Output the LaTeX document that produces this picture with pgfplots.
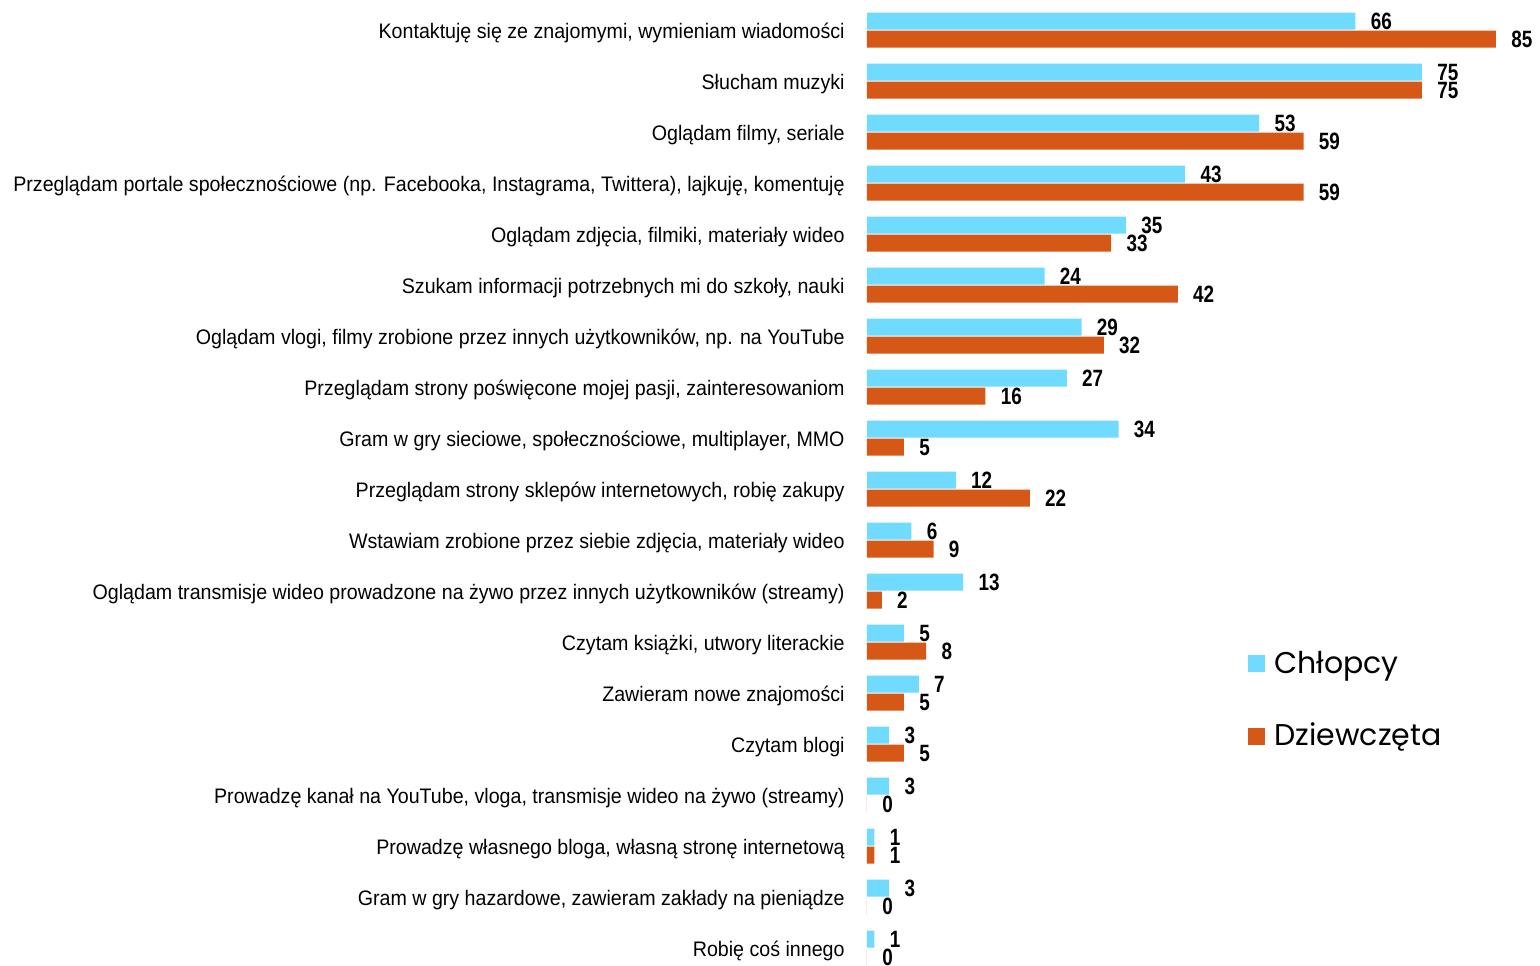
\documentclass[border=0pt]{standalone}
\usepackage{fontspec}
\setmainfont{Liberation Sans}
\newfontfamily\narrowfont[FakeStretch=0.935]{Liberation Sans}
\newfontfamily\valfont[FakeStretch=0.8]{Liberation Sans}
\newfontfamily\legfont{Poppins}
\usepackage{pgfplots}
\usepackage{pgfplotstable}
\pgfplotsset{compat=1.18}
\definecolor{cyanbar}{RGB}{112,218,255}
\definecolor{orangebar}{RGB}{213,88,22}
\pgfplotstableread{
y c d
0 66 85
1 75 75
2 53 59
3 43 59
4 35 33
5 24 42
6 29 32
7 27 16
8 34 5
9 12 22
10 6 9
11 13 2
12 5 8
13 7 5
14 3 5
15 3 0
16 1 1
17 3 0
18 1 0
}\data
\begin{document}
\begin{tikzpicture}
\begin{axis}[
  xbar, scale only axis,
  width=333pt, height=482.5pt,
  xmin=0, xmax=90,
  ymin=-0.59, ymax=18.33, y dir=reverse,
  axis line style={draw=none},
  xtick=\empty,
  ytick={0,...,18},
  yticklabels={
    {Kontaktuję się ze znajomymi, wymieniam wiadomości},
    {Słucham muzyki},
    {Oglądam filmy, seriale},
    {Przeglądam portale społecznościowe (np. Facebooka, Instagrama, Twittera), lajkuję, komentuję},
    {Oglądam zdjęcia, filmiki, materiały wideo},
    {Szukam informacji potrzebnych mi do szkoły, nauki},
    {Oglądam vlogi, filmy zrobione przez innych użytkowników, np. na YouTube},
    {Przeglądam strony poświęcone mojej pasji, zainteresowaniom},
    {Gram w gry sieciowe, społecznościowe, multiplayer, MMO},
    {Przeglądam strony sklepów internetowych, robię zakupy},
    {Wstawiam zrobione przez siebie zdjęcia, materiały wideo},
    {Oglądam transmisje wideo prowadzone na żywo przez innych użytkowników (streamy)},
    {Czytam książki, utwory literackie},
    {Zawieram nowe znajomości},
    {Czytam blogi},
    {Prowadzę kanał na YouTube, vloga, transmisje wideo na żywo (streamy)},
    {Prowadzę własnego bloga, własną stronę internetową},
    {Gram w gry hazardowe, zawieram zakłady na pieniądze},
    {Robię coś innego}},
  major tick length=0pt,
  tick style={draw=none},
  yticklabel style={font=\narrowfont\fontsize{10.5}{12}\selectfont, anchor=east, xshift=-11pt, yshift=-1.5pt, inner sep=0pt},
  bar width=8.5pt,
  /pgf/number format/assume math mode=true,
  nodes near coords,
  nodes near coords style={font=\valfont\bfseries\fontsize{11.8}{12}\selectfont, anchor=west, inner sep=0pt, xshift=7.5pt},
  legend style={at={(0.572,0.33)}, anchor=north west, draw=none, fill=none,
    font=\legfont\fontsize{15}{17}\selectfont, row sep=19.5pt, inner sep=0pt,
    /tikz/every odd column/.append style={column sep=2.5pt}},
  legend image code/.code={\fill[#1] (0pt,-4.25pt) rectangle (8.5pt,4.25pt);},
  legend cell align=left,
]
\addplot[fill=cyanbar, draw=none, bar shift=4.5pt] table[x=c, y=y] {\data};
\addplot[fill=orangebar, draw=none, bar shift=-4.5pt] table[x=d, y=y] {\data};
\legend{Chłopcy, Dziewczęta}
\end{axis}
\pgfresetboundingbox
\useasboundingbox ([xshift=-433.5pt]current axis.south west) rectangle ([xshift=3.5pt]current axis.north east);
\end{tikzpicture}
\end{document}
